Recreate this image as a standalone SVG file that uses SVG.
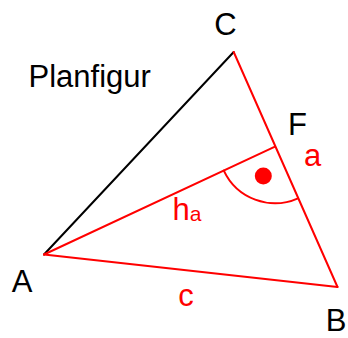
<svg xmlns="http://www.w3.org/2000/svg" width="348" height="338" viewBox="0 0 348 338">
<style>
.t{font-family:"Liberation Sans",Arial,sans-serif;font-size:31px;fill:#000}
.r{fill:#ff0000}
.ln{fill:none;stroke-width:2;stroke-linecap:round;stroke-linejoin:round}
</style>
<rect width="348" height="338" fill="#fff"/>
<text class="t" x="28.5" y="87">Planfigur</text>
<g id="connectors">
<line class="ln" x1="44" y1="254.5" x2="233.7" y2="52" stroke="#000"/>
<line class="ln" x1="233.7" y1="52" x2="337.5" y2="287" stroke="#f00"/>
<line class="ln" x1="44" y1="254.5" x2="337.5" y2="287" stroke="#f00"/>
<line class="ln" x1="44" y1="254.5" x2="275" y2="146.7" stroke="#f00"/>
<path class="ln" d="M223.8,170.6 A56.5,56.5 0 0 0 298,198.3" stroke="#f00"/>
<circle cx="263.3" cy="176" r="8.5" fill="#f00"/>
</g>
<g id="A"><text class="t" x="22" y="292" text-anchor="middle">A</text></g>
<g id="B"><text class="t" x="336" y="331" text-anchor="middle">B</text></g>
<g id="C"><text class="t" x="225.5" y="35" text-anchor="middle">C</text></g>
<g id="F"><text class="t" x="297.5" y="134.5" text-anchor="middle">F</text></g>
<g id="labels">
<text class="t r" x="312.5" y="166" text-anchor="middle">a</text>
<text class="t r" x="186" y="306" text-anchor="middle">c</text>
<text class="t r" x="172.5" y="220">h<tspan font-size="21" dy="1">a</tspan></text>
</g>
</svg>
